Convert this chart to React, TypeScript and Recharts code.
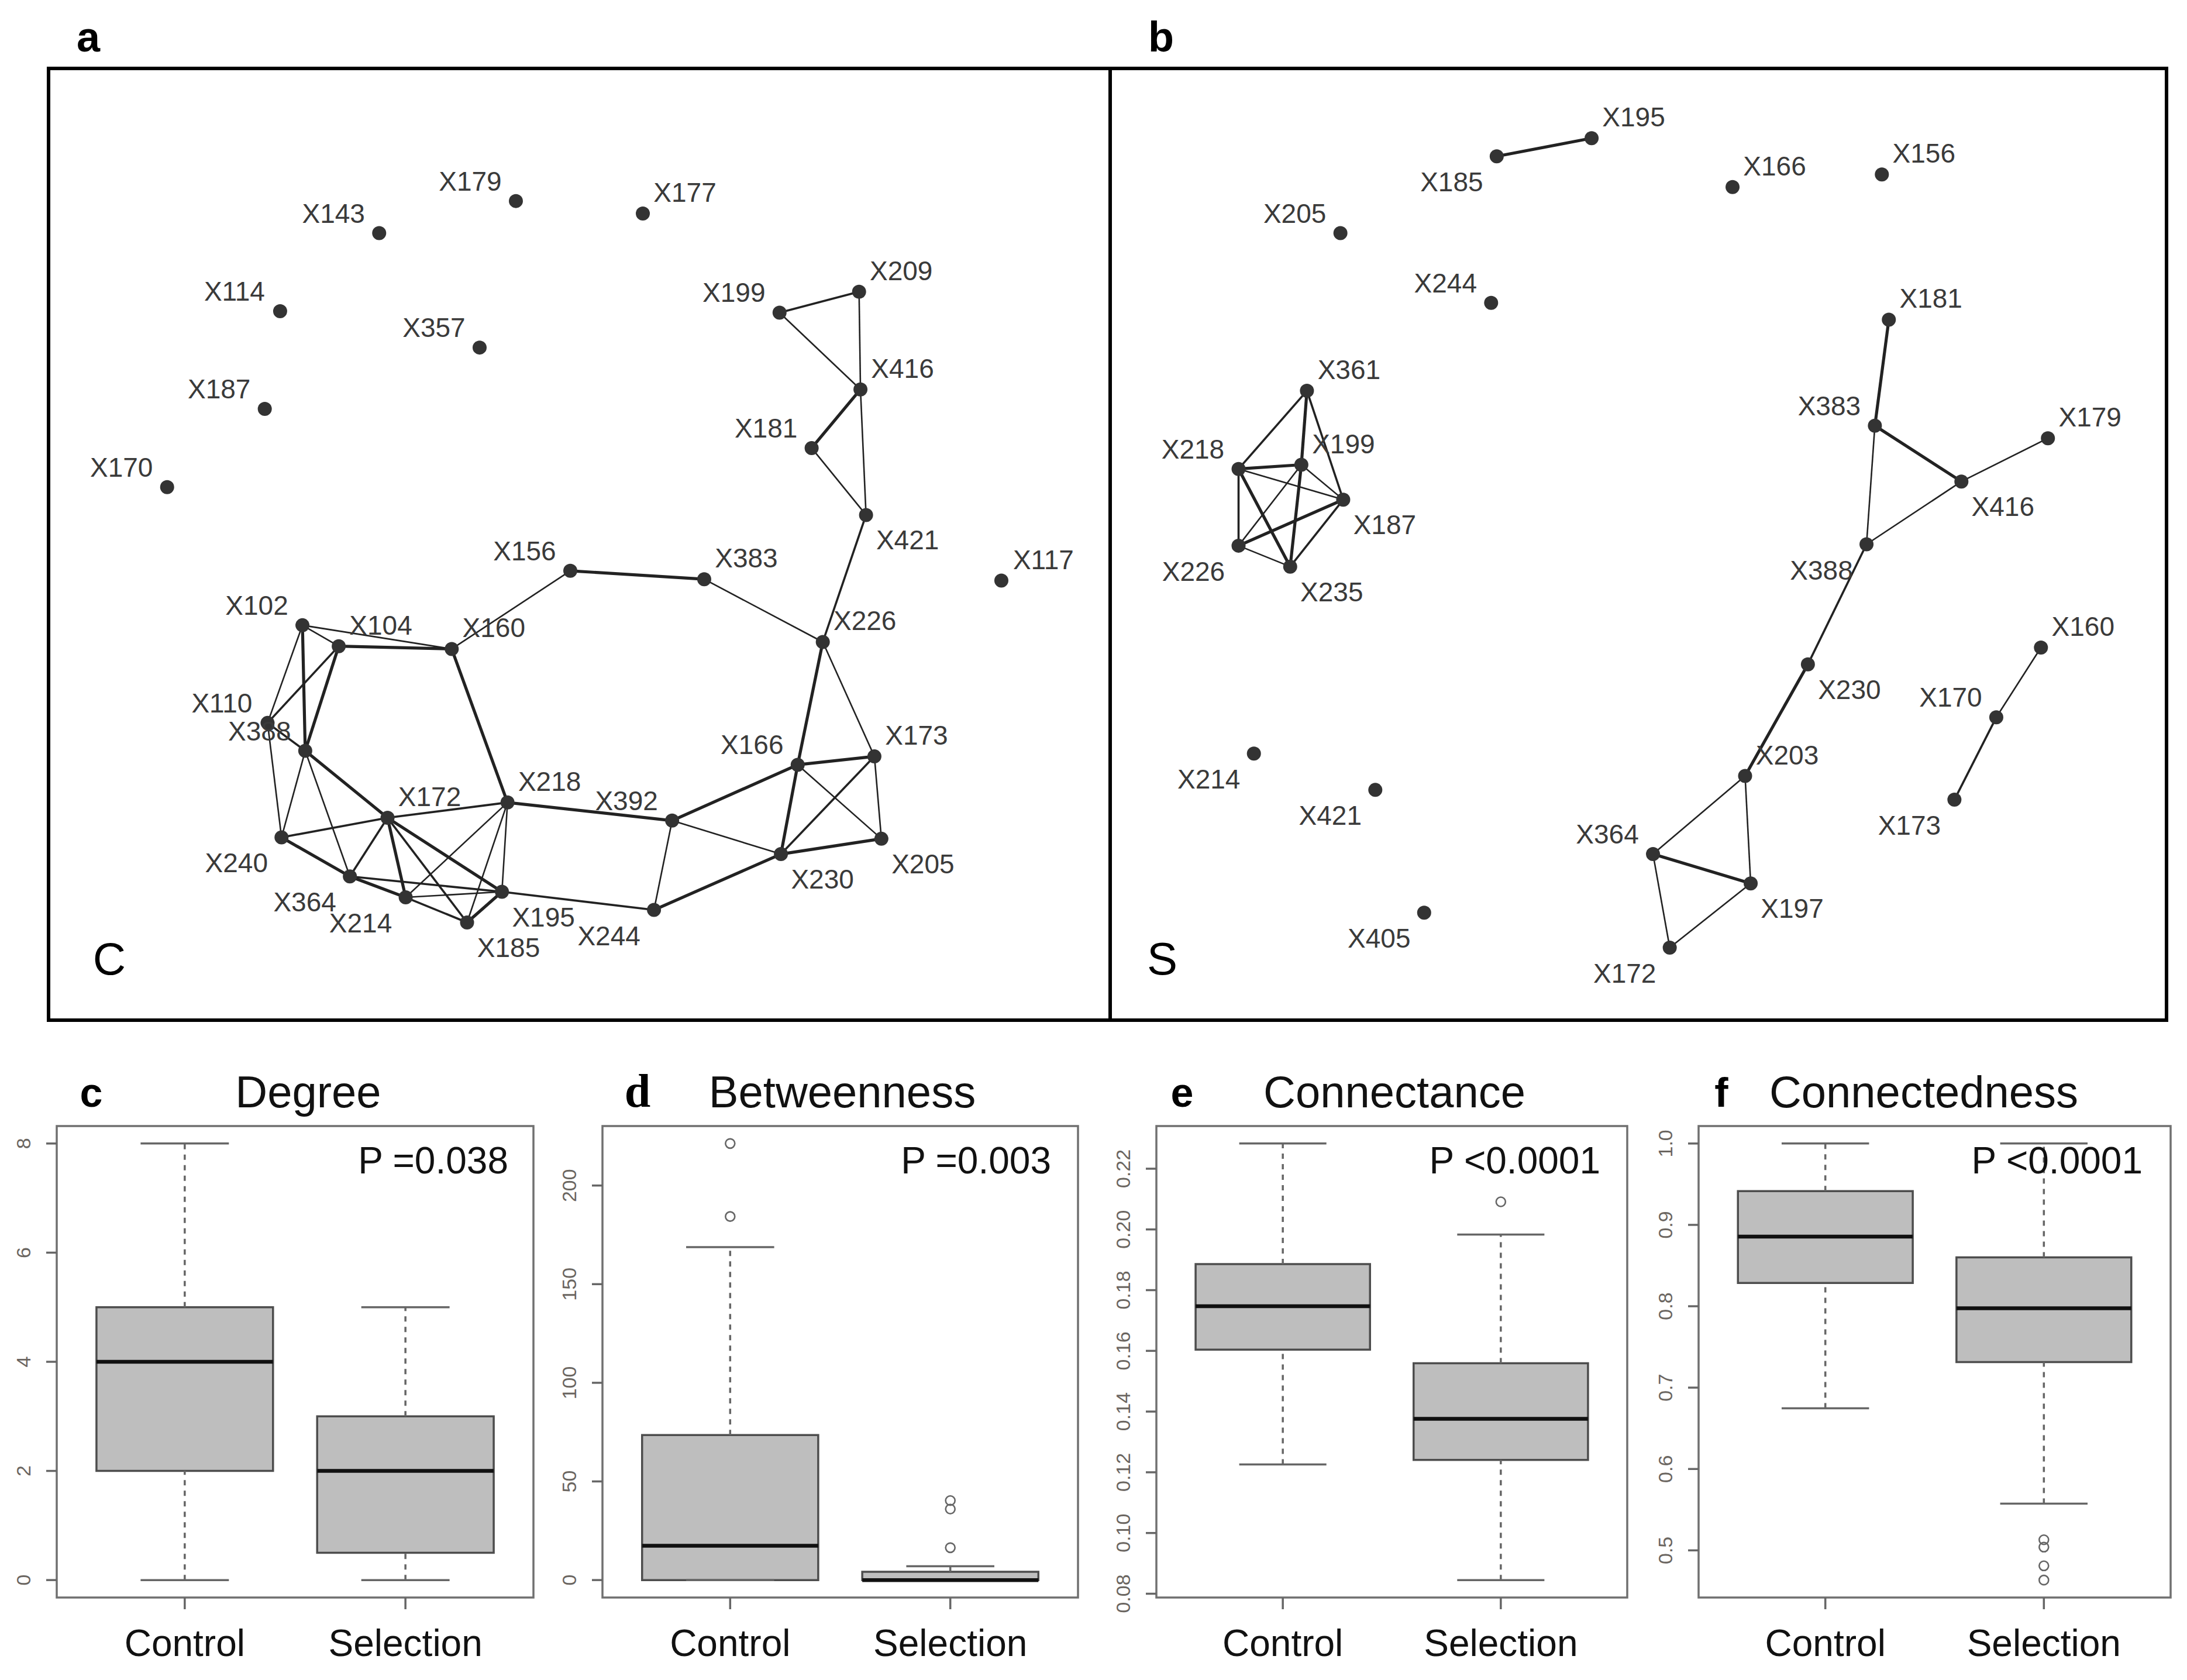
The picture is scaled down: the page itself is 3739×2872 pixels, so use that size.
import React from "react";
import {
  ComposedChart,
  ReferenceArea,
  ReferenceLine,
  Scatter,
  ScatterChart,
  XAxis,
  YAxis,
} from "recharts";

const SANS = '"Liberation Sans", Arial, Helvetica, sans-serif';
const SERIF = '"Liberation Serif", "Times New Roman", serif';

type Node = [string, number, number, string];
type Edge = [string, string, number];

// network layouts: [name, x, y, label side], y grows downwards
const controlNodes: Node[] = [
  ["X179", 335, 95, "ul"], ["X143", 237, 118, "ul"], ["X177", 426, 104, "ur"],
  ["X114", 166, 174, "ul"], ["X357", 309, 200, "ul"], ["X187", 155, 244, "ul"],
  ["X170", 85, 300, "ul"], ["X199", 524, 175, "ul"], ["X209", 581, 160, "ur"],
  ["X416", 582, 230, "ur"], ["X181", 547, 272, "ul"], ["X421", 586, 320, "dr"],
  ["X117", 683, 367, "ur"], ["X156", 374, 360, "ul"], ["X383", 470, 366, "ur"],
  ["X226", 555, 411, "ur"], ["X102", 182, 399, "ul"], ["X104", 208, 414, "ur"],
  ["X160", 289, 416, "ur"], ["X110", 157, 469, "ul"], ["X388", 184, 489, "ul"],
  ["X172", 243, 537, "ur"], ["X218", 329, 526, "ur"], ["X392", 447, 539, "ul"],
  ["X166", 537, 499, "ul"], ["X173", 592, 493, "ur"], ["X240", 167, 551, "dl"],
  ["X364", 216, 579, "dl"], ["X214", 256, 594, "dl"], ["X185", 300, 612, "dr"],
  ["X195", 325, 590, "dr"], ["X244", 434, 603, "dl"], ["X230", 525, 563, "dr"],
  ["X205", 597, 552, "dr"],
];

// [from, to, weight class 1..3]
const controlEdges: Edge[] = [
  ["X199", "X209", 2], ["X199", "X416", 1], ["X209", "X416", 1], ["X416", "X181", 3],
  ["X416", "X421", 1], ["X181", "X421", 1], ["X421", "X226", 2], ["X156", "X383", 3],
  ["X156", "X160", 1], ["X383", "X226", 1], ["X226", "X166", 3], ["X226", "X173", 1],
  ["X102", "X104", 1], ["X102", "X160", 1], ["X104", "X160", 3], ["X102", "X110", 1],
  ["X102", "X388", 3], ["X104", "X110", 2], ["X104", "X388", 3], ["X160", "X218", 3],
  ["X110", "X388", 2], ["X110", "X240", 1], ["X388", "X240", 1], ["X388", "X364", 1],
  ["X388", "X172", 3], ["X172", "X195", 3], ["X172", "X218", 2], ["X240", "X172", 2],
  ["X240", "X364", 3], ["X364", "X172", 2], ["X364", "X214", 3], ["X364", "X195", 2],
  ["X214", "X172", 3], ["X214", "X185", 2], ["X214", "X195", 1], ["X172", "X185", 2],
  ["X218", "X185", 1], ["X218", "X195", 1], ["X218", "X214", 1], ["X218", "X392", 3],
  ["X195", "X185", 3], ["X195", "X244", 2], ["X392", "X244", 1], ["X392", "X166", 3],
  ["X392", "X230", 1], ["X244", "X230", 3], ["X166", "X173", 3], ["X166", "X230", 3],
  ["X166", "X205", 1], ["X173", "X230", 2], ["X173", "X205", 1], ["X230", "X205", 3],
];

const selectionNodes: Node[] = [
  ["X185", 277, 63, "dl"], ["X195", 345, 50, "ur"], ["X166", 446, 85, "ur"],
  ["X156", 553, 76, "ur"], ["X205", 165, 118, "ul"], ["X244", 273, 168, "ul"],
  ["X181", 558, 180, "ur"], ["X361", 141, 231, "ur"], ["X218", 92, 287, "ul"],
  ["X199", 137, 284, "ur"], ["X187", 167, 309, "dr"], ["X226", 92, 342, "dl"],
  ["X235", 129, 357, "dr"], ["X383", 548, 256, "ul"], ["X179", 672, 265, "ur"],
  ["X416", 610, 296, "dr"], ["X388", 542, 341, "dl"], ["X230", 500, 427, "dr"],
  ["X160", 667, 415, "ur"], ["X170", 635, 465, "ul"], ["X173", 605, 524, "dl"],
  ["X203", 455, 507, "ur"], ["X214", 103, 491, "dl"], ["X421", 190, 517, "dl"],
  ["X364", 389, 563, "ul"], ["X197", 459, 584, "dr"], ["X172", 401, 630, "dl"],
  ["X405", 225, 605, "dl"],
];

const selectionEdges: Edge[] = [
  ["X185", "X195", 3], ["X181", "X383", 3], ["X383", "X416", 3], ["X383", "X388", 1],
  ["X416", "X179", 1], ["X416", "X388", 1], ["X388", "X230", 2], ["X230", "X203", 3],
  ["X203", "X364", 1], ["X203", "X197", 1], ["X364", "X197", 3], ["X364", "X172", 1],
  ["X197", "X172", 1], ["X160", "X170", 1], ["X170", "X173", 2], ["X361", "X218", 2],
  ["X361", "X199", 3], ["X361", "X187", 2], ["X218", "X199", 3], ["X218", "X187", 1],
  ["X218", "X226", 2], ["X218", "X235", 3], ["X199", "X226", 1], ["X199", "X235", 3],
  ["X199", "X187", 1], ["X226", "X187", 3], ["X226", "X235", 1], ["X235", "X187", 2],
];

const groups = ["Control", "Selection"];

// boxplot summaries per group: [min, q1, median, q3, max]
const degreeStats = [[0, 2, 4, 5, 8], [0, 0.5, 2, 3, 5]];
const degreeOutliers = [[], []];
const degreeTicks = [0, 2, 4, 6, 8];

const betweennessStats = [[0, 0, 17.4, 73.5, 168.8], [0, 0, 0, 4.2, 7]];
const betweennessOutliers = [[184.3, 221.3], [16.4, 36, 40.3]];
const betweennessTicks = [0, 50, 100, 150, 200];

const connectanceStats = [
  [0.1226, 0.1604, 0.1747, 0.1886, 0.2283],
  [0.0845, 0.1241, 0.1376, 0.1559, 0.1983],
];
const connectanceOutliers = [[], [0.2091]];
const connectanceTicks = [0.08, 0.1, 0.12, 0.14, 0.16, 0.18, 0.2, 0.22];

const connectednessStats = [
  [0.6746, 0.8286, 0.8856, 0.9415, 1.0],
  [0.5575, 0.7314, 0.7975, 0.86, 1.0],
];
const connectednessOutliers = [[], [0.513, 0.504, 0.481, 0.4635]];
const connectednessTicks = [0.5, 0.6, 0.7, 0.8, 0.9, 1.0];

// ---- layout ----
const NET_TOP = 117;
const NET_H = 1627;
const NET_YMAX = 682;
const EDGE_W: Record<number, number> = { 1: 2.6, 2: 3.6, 3: 5.2 };
const LABEL_OFF: Record<string, [number, number]> = {
  ul: [-78, -34],
  ur: [72, -36],
  dl: [-77, 44],
  dr: [71, 43],
};

const BOX_TOP = 1925;
const BOX_H = 806;

function NodeShape(props: any) {
  const { cx, cy, payload } = props;
  const [dx, dy] = LABEL_OFF[payload.pos];
  return (
    <g>
      <circle cx={cx} cy={cy} r={12} fill="#333" />
      <text
        x={cx + dx}
        y={cy + dy}
        textAnchor="middle"
        dominantBaseline="central"
        fontSize={46}
        fontFamily={SANS}
        fill="#3a3a3a"
      >
        {payload.name}
      </text>
    </g>
  );
}

function Network({ nodes, edges, left, width, xMax }: any) {
  const data = nodes.map(([name, x, y, pos]: Node) => ({ name, x, y, pos }));
  const at: Record<string, any> = {};
  data.forEach((d: any) => (at[d.name] = d));
  return (
    <div style={{ position: "absolute", left: left - 4, top: NET_TOP - 4 }}>
      <ScatterChart
        width={width + 8}
        height={NET_H + 8}
        margin={{ top: 4, right: 4, bottom: 4, left: 4 }}
      >
        <XAxis type="number" dataKey="x" domain={[0, xMax]} hide allowDataOverflow />
        <YAxis type="number" dataKey="y" domain={[0, NET_YMAX]} reversed hide allowDataOverflow />
        <ReferenceArea
          x1={0}
          x2={xMax}
          y1={0}
          y2={NET_YMAX}
          fill="none"
          fillOpacity={0}
          stroke="#000"
          strokeWidth={6}
          ifOverflow="visible"
        />
        {edges.map(([a, b, w]: Edge, i: number) => (
          <ReferenceLine
            key={i}
            segment={[
              { x: at[a].x, y: at[a].y },
              { x: at[b].x, y: at[b].y },
            ]}
            stroke="#222"
            strokeWidth={EDGE_W[w]}
            ifOverflow="visible"
          />
        ))}
        <Scatter data={data} dataKey="y" shape={NodeShape} isAnimationActive={false} />
      </ScatterChart>
    </div>
  );
}

function CategoryTick(props: any) {
  const { x, y, payload } = props;
  return (
    <text x={x} y={y + 78} textAnchor="middle" fontSize={64} fontFamily={SANS} fill="#111">
      {groups[payload.value - 1]}
    </text>
  );
}

function makeValueTick(digits: number) {
  return function ValueTick(props: any) {
    const { x, y, payload } = props;
    const bx = x - 25;
    return (
      <text
        x={bx}
        y={y}
        transform={`rotate(-90, ${bx}, ${y})`}
        textAnchor="middle"
        fontSize={34}
        fontFamily={SANS}
        fill="#6a6560"
      >
        {Number(payload.value).toFixed(digits)}
      </text>
    );
  };
}

function OutlierShape(props: any) {
  const { cx, cy } = props;
  return <circle cx={cx} cy={cy} r={8} fill="none" stroke="#666" strokeWidth={2.6} />;
}

function BoxPanel({ stats, outliers, ticks, digits, left, width }: any) {
  const values: number[] = [];
  stats.forEach((s: number[]) => values.push(s[0], s[4]));
  outliers.forEach((o: number[]) => values.push(...o));
  const lo = Math.min(...values);
  const hi = Math.max(...values);
  const pad = (hi - lo) * 0.04;
  const yDomain = [lo - pad, hi + pad];
  const xDomain = [0.42, 2.58];
  const outlierRows: any[] = [];
  outliers.forEach((o: number[], gi: number) =>
    o.forEach((v) => outlierRows.push({ x: gi + 1, y: v }))
  );

  const gray = "#666";
  const parts: any[] = [];
  stats.forEach((s: number[], gi: number) => {
    const g = gi + 1;
    const [mn, q1, med, q3, mx] = s;
    parts.push(
      <ReferenceLine key={`wu${g}`} segment={[{ x: g, y: q3 }, { x: g, y: mx }]}
        stroke={gray} strokeWidth={3.5} strokeDasharray="9 9" ifOverflow="visible" />,
      <ReferenceLine key={`wl${g}`} segment={[{ x: g, y: mn }, { x: g, y: q1 }]}
        stroke={gray} strokeWidth={3.5} strokeDasharray="9 9" ifOverflow="visible" />,
      <ReferenceLine key={`cu${g}`} segment={[{ x: g - 0.2, y: mx }, { x: g + 0.2, y: mx }]}
        stroke={gray} strokeWidth={3.5} ifOverflow="visible" />,
      <ReferenceLine key={`cl${g}`} segment={[{ x: g - 0.2, y: mn }, { x: g + 0.2, y: mn }]}
        stroke={gray} strokeWidth={3.5} ifOverflow="visible" />,
      <ReferenceArea key={`b${g}`} x1={g - 0.4} x2={g + 0.4} y1={q1} y2={q3}
        fill="#bebebe" fillOpacity={1} stroke="#4d4d4d" strokeWidth={3.5} ifOverflow="visible" />,
      <ReferenceLine key={`m${g}`} segment={[{ x: g - 0.4, y: med }, { x: g + 0.4, y: med }]}
        stroke="#111" strokeWidth={6.5} ifOverflow="visible" />
    );
  });

  return (
    <div style={{ position: "absolute", left: left - 110, top: BOX_TOP - 10 }}>
      <ComposedChart
        width={width + 120}
        height={BOX_H + 140}
        margin={{ top: 10, right: 10, bottom: 10, left: 10 }}
      >
        <XAxis
          type="number"
          dataKey="x"
          domain={xDomain}
          ticks={[1, 2]}
          height={120}
          tickSize={20}
          axisLine={false}
          tickLine={{ stroke: gray, strokeWidth: 3.5 }}
          tick={<CategoryTick />}
          allowDataOverflow
          interval={0}
        />
        <YAxis
          type="number"
          dataKey="y"
          domain={yDomain}
          ticks={ticks}
          width={100}
          tickSize={18}
          axisLine={false}
          tickLine={{ stroke: gray, strokeWidth: 3.5 }}
          tick={makeValueTick(digits)}
          allowDataOverflow
          interval={0}
        />
        {parts}
        <Scatter data={outlierRows} dataKey="y" shape={OutlierShape} isAnimationActive={false} />
        <ReferenceArea
          x1={xDomain[0]}
          x2={xDomain[1]}
          y1={yDomain[0]}
          y2={yDomain[1]}
          fill="none"
          fillOpacity={0}
          stroke="#707070"
          strokeWidth={3.5}
          ifOverflow="visible"
        />
      </ComposedChart>
    </div>
  );
}

const boxPanels = [
  { letter: "c", title: "Degree", p: "P =0.038", stats: degreeStats, outliers: degreeOutliers,
    ticks: degreeTicks, digits: 0, left: 97, width: 815, titleX: 527, letterX: 156, pRight: 869, serif: false },
  { letter: "d", title: "Betweenness", p: "P =0.003", stats: betweennessStats, outliers: betweennessOutliers,
    ticks: betweennessTicks, digits: 0, left: 1030, width: 813, titleX: 1440, letterX: 1090, pRight: 1797, serif: true },
  { letter: "e", title: "Connectance", p: "P <0.0001", stats: connectanceStats, outliers: connectanceOutliers,
    ticks: connectanceTicks, digits: 2, left: 1977, width: 805, titleX: 2384, letterX: 2021, pRight: 2736, serif: false },
  { letter: "f", title: "Connectedness", p: "P <0.0001", stats: connectednessStats, outliers: connectednessOutliers,
    ticks: connectednessTicks, digits: 1, left: 2904, width: 807, titleX: 3289, letterX: 2943, pRight: 3663, serif: false },
];

export default function App() {
  return (
    <div
      style={{
        position: "absolute",
        left: 0,
        top: 0,
        width: 3739,
        height: 2872,
        background: "#fff",
        overflow: "hidden",
      }}
    >
      <Network nodes={controlNodes} edges={controlEdges} left={83} width={1815} xMax={761} />
      <Network nodes={selectionNodes} edges={selectionEdges} left={1898} width={1806} xMax={757} />
      {boxPanels.map((b) => (
        <BoxPanel key={b.letter} {...b} />
      ))}
      <svg
        width={3739}
        height={2872}
        style={{ position: "absolute", left: 0, top: 0, pointerEvents: "none" }}
      >
        <g fontFamily={SANS} fill="#000">
          <text x={151} y={88} fontSize={72} fontWeight="bold" textAnchor="middle">a</text>
          <text x={1985} y={88} fontSize={72} fontWeight="bold" textAnchor="middle">b</text>
          <text x={187} y={1666} fontSize={78} textAnchor="middle">C</text>
          <text x={1987} y={1666} fontSize={78} textAnchor="middle">S</text>
          {boxPanels.map((b) => (
            <g key={b.letter}>
              <text
                x={b.letterX}
                y={1892}
                fontSize={b.serif ? 80 : 70}
                fontWeight="bold"
                fontFamily={b.serif ? SERIF : SANS}
                textAnchor="middle"
              >
                {b.letter}
              </text>
              <text x={b.titleX} y={1893} fontSize={76} textAnchor="middle" fill="#111">
                {b.title}
              </text>
              <text x={b.pRight} y={2006} fontSize={64} textAnchor="end" fill="#111">
                {b.p}
              </text>
            </g>
          ))}
        </g>
      </svg>
    </div>
  );
}
